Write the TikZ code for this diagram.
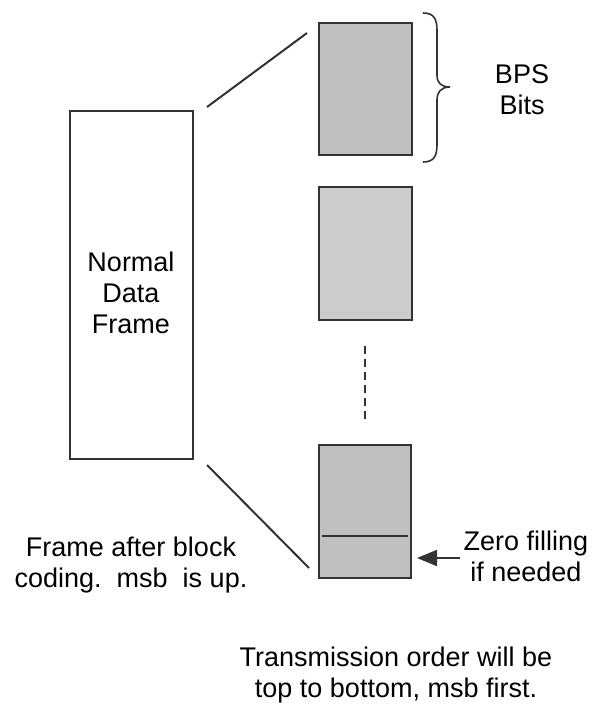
\documentclass[tikz,border=0pt]{standalone}
\usepackage{fontspec}
\setmainfont{Liberation Sans}
\usetikzlibrary{arrows.meta}
\definecolor{edge}{HTML}{333333}
\definecolor{blockfill}{HTML}{C0C0C0}
\definecolor{blocklight}{HTML}{CCCCCC}
\tikzset{
  frame/.style={draw=edge, line width=2pt, fill=white},
  bitblock/.style={draw=edge, line width=2pt, fill=blockfill},
  link/.style={draw=edge, line width=2pt},
  label/.style={align=center, inner sep=0pt, font=\fontsize{27}{31}\selectfont},
}
\begin{document}
\begin{tikzpicture}[x=1pt, y=-1pt]
  \useasboundingbox (0,0) rectangle (595,706);

  % frame before block coding
  \draw[frame] (70,111) rectangle (193,459);
  \node[label] (frametext) at (131,293) {Normal\\Data\\Frame};

  % BPS-bit blocks
  \draw[bitblock] (319,23) rectangle (412,155);
  \draw[bitblock, fill=blocklight] (319,187) rectangle (412,320);
  \draw[bitblock] (319,445) rectangle (411,578);
  \draw[link] (322,536) -- (408,536);

  % continuation marks between the blocks
  \coordinate (dotsTop) at (365,346);
  \coordinate (dotsBot) at (365,422);
  \draw[link, dash pattern=on 8pt off 5pt] (dotsTop) -- (dotsBot);

  % expansion lines from the frame to the blocks
  \coordinate (fanTopA) at (207,107);
  \coordinate (fanTopB) at (307,33);
  \coordinate (fanBotA) at (207,465);
  \coordinate (fanBotB) at (309,568);
  \draw[link] (fanTopA) -- (fanTopB);
  \draw[link] (fanBotA) -- (fanBotB);

  % brace over the first block
  \draw[edge, line width=1.6pt]
    (423,13) .. controls (433,13) and (437,18) .. (437,30) -- (437,75)
    .. controls (437,83) and (441,87) .. (450,87)
    .. controls (441,87) and (437,92) .. (437,100) -- (437,145)
    .. controls (437,157) and (433,162) .. (423,162);
  \node[label] (bps) at (522,90) {BPS\\Bits};

  % zero filling pointer
  \coordinate (zeroTail) at (460,558);
  \coordinate (zeroTip) at (417,558);
  \draw[link, -{Triangle[length=20pt, width=16pt]}] (zeroTail) -- (zeroTip);
  \node[label] (zero) at (526,556) {Zero filling\\if needed};

  % captions
  \node[label] (after) at (131,565) {Frame after block\\coding.\ \ msb\ \ is up.};
  \node[label] (order) at (396,675) {Transmission order will be\\top to bottom, msb first.};
\end{tikzpicture}
\end{document}
